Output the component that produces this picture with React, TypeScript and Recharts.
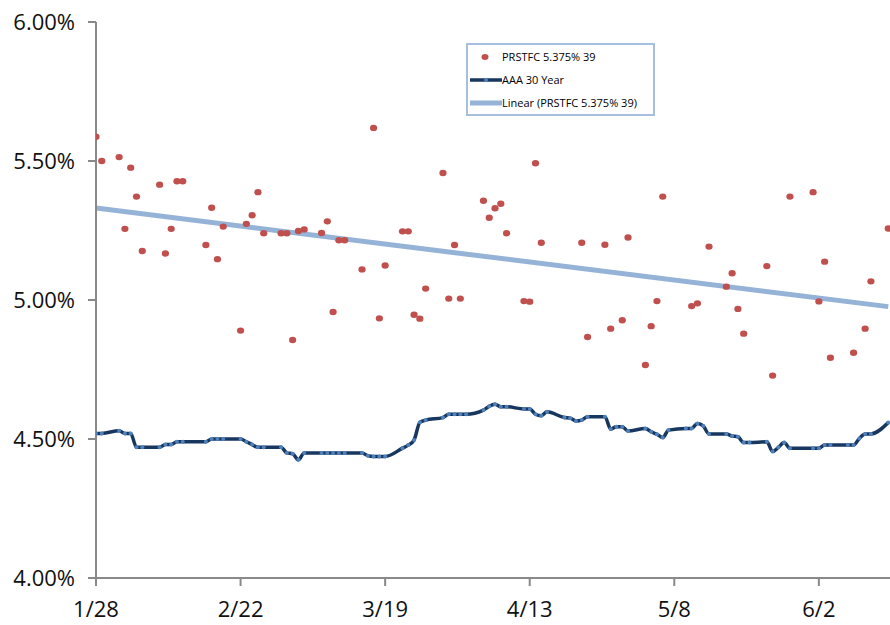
import React from 'react';
import { ComposedChart, Line, Scatter, XAxis, YAxis } from 'recharts';

// Days counted from 1/28
const xTickDays = [0, 25, 50, 75, 100, 125];
const xTickLabels = ['1/28', '2/22', '3/19', '4/13', '5/8', '6/2'];
const yTicks = [4.0, 4.5, 5.0, 5.5, 6.0];

const prsDays = [0, 1, 4, 5, 6, 7, 8, 11, 12, 13, 14, 15, 19, 20, 21, 22, 25, 26, 27, 28, 29, 32, 33, 34, 35, 36, 39, 40, 41, 42, 43, 46, 48, 49, 50, 53, 54, 55, 56, 57, 60, 61, 62, 63, 67, 68, 69, 70, 71, 74, 75, 76, 77, 84, 85, 88, 89, 91, 92, 95, 96, 97, 98, 103, 104, 106, 109, 110, 111, 112, 116, 117, 120, 124, 125, 126, 127, 131, 133, 134, 137];
const prsValues = [5.587, 5.5, 5.514, 5.256, 5.476, 5.372, 5.176, 5.415, 5.167, 5.256, 5.427, 5.427, 5.198, 5.332, 5.147, 5.264, 4.89, 5.274, 5.305, 5.388, 5.24, 5.24, 5.24, 4.856, 5.248, 5.254, 5.241, 5.283, 4.957, 5.215, 5.215, 5.11, 5.619, 4.934, 5.124, 5.247, 5.247, 4.947, 4.933, 5.041, 5.457, 5.005, 5.198, 5.005, 5.357, 5.296, 5.33, 5.346, 5.24, 4.996, 4.994, 5.492, 5.206, 5.206, 4.867, 5.199, 4.897, 4.927, 5.225, 4.766, 4.906, 4.996, 5.372, 4.978, 4.988, 5.192, 5.048, 5.096, 4.968, 4.879, 5.122, 4.728, 5.372, 5.388, 4.995, 5.138, 4.792, 4.81, 4.897, 5.067, 5.257];

const aaaDays = [0, 1, 4, 5, 6, 7, 8, 11, 12, 13, 14, 15, 19, 20, 21, 22, 25, 26, 27, 28, 29, 32, 33, 34, 35, 36, 39, 40, 41, 42, 43, 46, 47, 48, 49, 50, 53, 54, 55, 56, 57, 60, 61, 62, 63, 64, 67, 68, 69, 70, 71, 74, 75, 76, 77, 78, 81, 82, 83, 84, 85, 88, 89, 90, 91, 92, 95, 96, 97, 98, 99, 102, 103, 104, 105, 106, 109, 110, 111, 112, 113, 116, 117, 118, 119, 120, 124, 125, 126, 127, 130, 131, 132, 133, 134, 137];
const aaaValues = [4.52, 4.52, 4.53, 4.52, 4.52, 4.47, 4.47, 4.47, 4.48, 4.48, 4.49, 4.49, 4.49, 4.5, 4.5, 4.5, 4.5, 4.49, 4.48, 4.47, 4.47, 4.47, 4.45, 4.447, 4.425, 4.45, 4.45, 4.45, 4.45, 4.45, 4.45, 4.45, 4.44, 4.437, 4.437, 4.437, 4.467, 4.478, 4.496, 4.56, 4.568, 4.577, 4.589, 4.589, 4.589, 4.589, 4.604, 4.618, 4.625, 4.616, 4.616, 4.608, 4.608, 4.589, 4.584, 4.598, 4.577, 4.575, 4.565, 4.568, 4.58, 4.58, 4.536, 4.544, 4.544, 4.529, 4.538, 4.526, 4.517, 4.505, 4.532, 4.538, 4.538, 4.556, 4.547, 4.518, 4.518, 4.511, 4.508, 4.487, 4.487, 4.49, 4.455, 4.47, 4.487, 4.467, 4.467, 4.467, 4.478, 4.478, 4.478, 4.478, 4.502, 4.518, 4.518, 4.559];

const seriesNames = ['PRSTFC 5.375% 39', 'AAA 30 Year', 'Linear (PRSTFC 5.375% 39)'];

const prsData = prsDays.map((d, i) => ({ x: d, prs: prsValues[i] }));
const aaaData = aaaDays.map((d, i) => ({ x: d, aaa: aaaValues[i] }));

// least squares trend of PRSTFC series
const n = prsDays.length;
const mx = prsDays.reduce((a, b) => a + b, 0) / n;
const my = prsValues.reduce((a, b) => a + b, 0) / n;
let sxy = 0;
let sxx = 0;
for (let i = 0; i < n; i++) {
  sxy += (prsDays[i] - mx) * (prsValues[i] - my);
  sxx += (prsDays[i] - mx) * (prsDays[i] - mx);
}
const slope = sxy / sxx;
const intercept = my - slope * mx;
const trendDays = [prsDays[0], prsDays[n - 1]];
const trendData = trendDays.map((d) => ({ x: d, trend: intercept + slope * d }));

const RED = '#C0504D';
const NAVY = '#17375E';
const MARK = '#4F81BD';
const LIGHT = '#95B3D7';
const FONT = '"Open Sans", sans-serif';

const LegendBox = () => (
  <div
    style={{
      position: 'absolute',
      left: 466,
      top: 43,
      width: 189,
      height: 73,
      boxSizing: 'border-box',
      border: '2px solid #A7BFDE',
      background: '#fff',
      fontFamily: FONT,
      fontSize: 11,
      color: '#000',
    }}
  >
    <svg width={36} height={73} style={{ position: 'absolute', left: -2, top: -2 }}>
      <ellipse cx={19} cy={14} rx={3.5} ry={3} fill={RED} />
      <line x1={4} y1={37} x2={36} y2={37} stroke={NAVY} strokeWidth={3.5} />
      <circle cx={20} cy={37} r={2} fill={MARK} />
      <line x1={4} y1={60} x2={36} y2={60} stroke={LIGHT} strokeWidth={5} />
    </svg>
    <div style={{ position: 'absolute', left: 34, top: 5, lineHeight: '14px', whiteSpace: 'nowrap' }}>{seriesNames[0]}</div>
    <div style={{ position: 'absolute', left: 34, top: 28, lineHeight: '14px', whiteSpace: 'nowrap' }}>{seriesNames[1]}</div>
    <div style={{ position: 'absolute', left: 34, top: 51, lineHeight: '14px', whiteSpace: 'nowrap' }}>{seriesNames[2]}</div>
  </div>
);

const ScatterDot = (props: any) => {
  const { cx, cy } = props;
  if (cx == null || cy == null) return null;
  return <ellipse cx={cx} cy={cy} rx={3.6} ry={3.2} fill={RED} />;
};

export default function App() {
  return (
    <div style={{ position: 'absolute', left: 0, top: 0, width: 890, height: 625, background: '#fff' }}>
      <ComposedChart width={890} height={625} margin={{ top: 22, right: 0, bottom: 0, left: 0 }}>
        <XAxis
          dataKey="x"
          type="number"
          domain={[0, 137.3]}
          ticks={xTickDays}
          tickFormatter={(v: number) => xTickLabels[xTickDays.indexOf(v)] ?? ''}
          height={47}
          axisLine={{ stroke: '#898989', strokeWidth: 2 }}
          tickLine={{ stroke: '#898989', strokeWidth: 2 }}
          tickSize={8}
          tickMargin={15}
          tick={{ fill: '#111', fontSize: 22, fontFamily: FONT }}
          allowDataOverflow
        />
        <YAxis
          type="number"
          domain={[4, 6]}
          ticks={yTicks}
          tickFormatter={(v: number) => v.toFixed(2) + '%'}
          width={96}
          axisLine={{ stroke: '#898989', strokeWidth: 2 }}
          tickLine={{ stroke: '#898989', strokeWidth: 2 }}
          tickSize={8}
          tickMargin={13}
          tick={{ fill: '#111', fontSize: 22, fontFamily: FONT }}
          allowDataOverflow
        />
        <Scatter
          name={seriesNames[0]}
          data={prsData}
          dataKey="prs"
          shape={ScatterDot}
          isAnimationActive={false}
        />
        <Line
          name={seriesNames[1]}
          data={aaaData}
          dataKey="aaa"
          type="monotone"
          stroke={NAVY}
          strokeWidth={3.5}
          dot={{ r: 2, fill: MARK, stroke: 'none' }}
          activeDot={false}
          isAnimationActive={false}
        />
        <Line
          name={seriesNames[2]}
          data={trendData}
          dataKey="trend"
          type="linear"
          stroke={LIGHT}
          strokeWidth={5}
          dot={false}
          activeDot={false}
          isAnimationActive={false}
        />
      </ComposedChart>
      <LegendBox />
    </div>
  );
}
